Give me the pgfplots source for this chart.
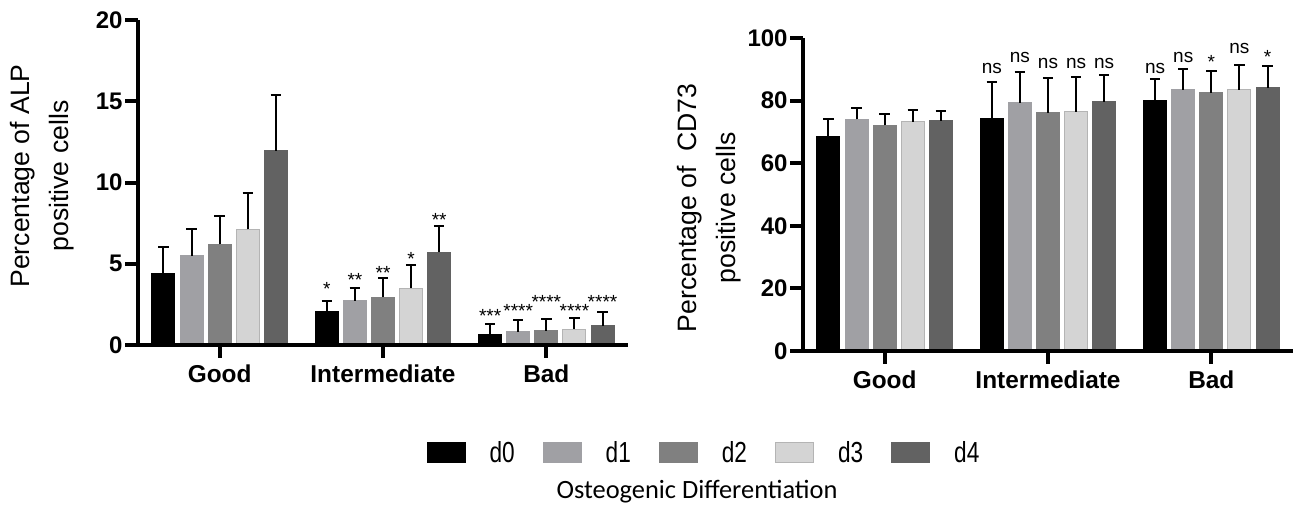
\documentclass[border=0pt]{standalone}
\usepackage{fontspec}
\setmainfont{Liberation Sans}
\newfontfamily\narrowfont[FakeStretch=0.78]{Liberation Sans}
\newfontfamily\captionfont{Carlito}
\usepackage{pgfplots}
\usepackage{pgfplotstable}
\pgfplotsset{compat=1.18}

\definecolor{cZero}{RGB}{0,0,0}
\definecolor{cOne}{RGB}{160,160,164}
\definecolor{cTwo}{RGB}{128,128,128}
\definecolor{cThree}{RGB}{212,212,212}
\definecolor{cThreeEdge}{RGB}{180,180,180}
\definecolor{cFour}{RGB}{98,98,98}

% ALP: mean and SD per group (c: 0 Good, 1 Intermediate, 2 Bad)
\pgfplotstableread{
c d0 e0 d1 e1 d2 e2 d3 e3 d4 e4
0 4.41 1.60 5.48 1.64 6.19 1.75 7.12 2.21 11.94 3.44
1 2.05 0.66 2.71 0.78 2.93 1.21 3.49 1.43 5.70 1.62
2 0.65 0.65 0.83 0.70 0.89 0.70 0.97 0.72 1.18 0.86
}\alpdata

% ALP significance marks (s: day index, y: baseline of the mark)
\pgfplotstableread{
c s y lab
1 0 3.02 *
1 1 3.58 **
1 2 4.01 **
1 3 4.87 *
1 4 7.28 **
2 0 1.39 ***
2 1 1.67 ****
2 2 2.24 ****
2 3 1.67 ****
2 4 2.24 ****
}\alpstars

% CD73: mean and SD per group
\pgfplotstableread{
c d0 e0 d1 e1 d2 e2 d3 e3 d4 e4
0 68.4 5.7 74.0 3.5 72.1 3.5 73.3 3.7 73.6 3.0
1 74.4 11.4 79.3 9.8 76.1 11.2 76.4 11.2 79.7 8.5
2 80.0 6.9 83.4 6.8 82.5 6.9 83.5 8.0 84.1 7.0
}\cddata

% CD73 significance marks
\pgfplotstableread{
c s y lab
1 0 88.6 ns
1 1 92.3 ns
1 2 90.2 ns
1 3 90.2 ns
1 4 90.4 ns
2 0 88.8 ns
2 1 92.3 ns
2 2 90.4 *
2 3 95.0 ns
2 4 92.0 *
}\cdstars

\pgfplotsset{
  swatch/.style={legend image code/.code={\draw[line width=0.5pt,##1] (0pt,-4.5pt) rectangle (19pt,5.5pt);}},
  barser/.style 2 args={ybar, bar width=11.5pt, bar shift=0pt, fill=#1, draw=#2,
    line width=0.5pt, swatch,
    error bars/.cd, y dir=plus, y explicit,
    error bar style={black, line width=1pt},
    error mark options={black, line width=1pt, mark size=2.6pt, rotate=90}},
  marks/.style={draw=none, mark=none, forget plot, nodes near coords,
    point meta=explicit symbolic,
    nodes near coords style={anchor=base, inner sep=0pt, text=black,
      font=\fontsize{9.5}{10}\selectfont}},
  panel/.style={
    scale only axis, width=245pt,
    axis lines=left, axis line style={-, line width=2pt},
    xmin=-0.5, xmax=2.5, xtick={0,1,2}, xticklabels={Good,Intermediate,Bad},
    tick align=outside, major tick length=6.4pt,
    tick style={line width=2pt, black},
    ymin=0, enlargelimits=false, clip=false, axis on top,
    xticklabel style={font=\fontsize{12.2}{14}\selectfont\bfseries},
    yticklabel style={font=\fontsize{12}{14}\selectfont\bfseries, xshift=2.2pt},
    /pgf/number format/assume math mode=true,
    ylabel style={font=\fontsize{13.3}{19.25}\selectfont, align=center,
      anchor=center, rotate=0},
  },
}

\begin{document}
\begin{tikzpicture}
\useasboundingbox (0,0) rectangle (649.5pt,-254.5pt);

% ALP panel
\begin{axis}[panel, at={(69pt,-172.5pt)}, anchor=south west, height=162.5pt,
  ymax=20, ytick={0,5,10,15,20},
  ylabel={Percentage of ALP\\positive cells},
  ylabel style={at={(axis description cs:-0.196,0.52)}},
  legend columns=5,
  legend style={draw=none, fill=none, at={(axis description cs:1.157,-0.335)},
    anchor=center, font=\narrowfont\fontsize{14.5}{16}\selectfont,
    /tikz/every odd column/.append style={column sep=10pt},
    /tikz/every even column/.append style={column sep=12pt}},
]
\addplot[barser={cZero}{cZero}]   table[x expr=\thisrow{c}-0.344, y=d0, y error=e0] {\alpdata};
\addplot[barser={cOne}{cOne}]     table[x expr=\thisrow{c}-0.172, y=d1, y error=e1] {\alpdata};
\addplot[barser={cTwo}{cTwo}]     table[x expr=\thisrow{c},       y=d2, y error=e2] {\alpdata};
\addplot[barser={cThree}{cThreeEdge}] table[x expr=\thisrow{c}+0.172, y=d3, y error=e3] {\alpdata};
\addplot[barser={cFour}{cFour}]   table[x expr=\thisrow{c}+0.344, y=d4, y error=e4] {\alpdata};
\legend{d0,d1,d2,d3,d4}
\addplot[marks] table[x expr=\thisrow{c}+(\thisrow{s}-2)*0.172, y=y, meta=lab] {\alpstars};
\end{axis}

% CD73 panel
\begin{axis}[panel, at={(401.5pt,-175.5pt)}, anchor=south west, height=156.5pt,
  ymax=100, ytick={0,20,40,60,80,100},
  ylabel={Percentage of\ \ CD73\\positive cells},
  ylabel style={at={(axis description cs:-0.192,0.457)}},
]
\addplot[barser={cZero}{cZero}]   table[x expr=\thisrow{c}-0.344, y=d0, y error=e0] {\cddata};
\addplot[barser={cOne}{cOne}]     table[x expr=\thisrow{c}-0.172, y=d1, y error=e1] {\cddata};
\addplot[barser={cTwo}{cTwo}]     table[x expr=\thisrow{c},       y=d2, y error=e2] {\cddata};
\addplot[barser={cThree}{cThreeEdge}] table[x expr=\thisrow{c}+0.172, y=d3, y error=e3] {\cddata};
\addplot[barser={cFour}{cFour}]   table[x expr=\thisrow{c}+0.344, y=d4, y error=e4] {\cddata};
\addplot[marks] table[x expr=\thisrow{c}+(\thisrow{s}-2)*0.172, y=y, meta=lab] {\cdstars};
\end{axis}

\node[anchor=base, font=\captionfont\fontsize{13.2}{15}\selectfont]
  at (348.5pt,-249pt) {Osteogenic Differentiation};
\end{tikzpicture}
\end{document}
